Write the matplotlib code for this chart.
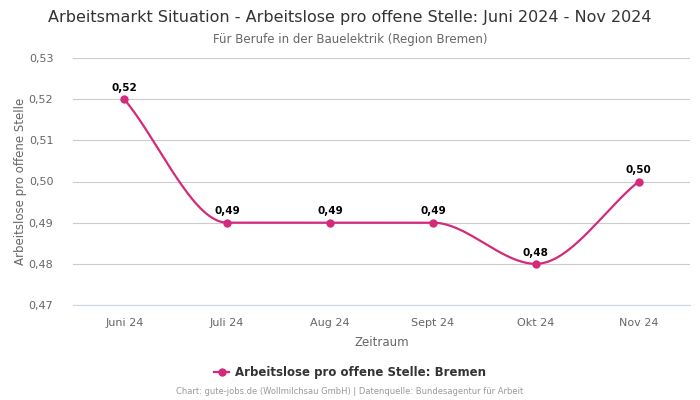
import numpy as np
import matplotlib.pyplot as plt
from matplotlib.lines import Line2D

# daten
monate = ['Juni 24', 'Juli 24', 'Aug 24', 'Sept 24', 'Okt 24', 'Nov 24']
werte = [0.52, 0.49, 0.49, 0.49, 0.48, 0.50]
yticks = [0.47, 0.48, 0.49, 0.50, 0.51, 0.52, 0.53]

farbe = '#d42a7b'


def pchip(x, y, n=40):
    # monotone kubische interpolation (Fritsch-Carlson) fuer die glatte linie
    x = np.asarray(x, float)
    y = np.asarray(y, float)
    h = np.diff(x)
    d = np.diff(y) / h
    m = np.zeros_like(y)
    for i in range(1, len(y) - 1):
        if d[i - 1] * d[i] > 0:
            w1 = 2 * h[i] + h[i - 1]
            w2 = h[i] + 2 * h[i - 1]
            m[i] = (w1 + w2) / (w1 / d[i - 1] + w2 / d[i])
    m[0] = d[0]
    m[-1] = d[-1]
    xs, ys = [], []
    for i in range(len(h)):
        t = np.linspace(0, 1, n)
        h00 = 2 * t**3 - 3 * t**2 + 1
        h10 = t**3 - 2 * t**2 + t
        h01 = -2 * t**3 + 3 * t**2
        h11 = t**3 - t**2
        xs.append(x[i] + t * h[i])
        ys.append(h00 * y[i] + h10 * h[i] * m[i] + h01 * y[i + 1] + h11 * h[i] * m[i + 1])
    return np.concatenate(xs), np.concatenate(ys)


fig = plt.figure(figsize=(7, 4), dpi=100)
ax = fig.add_axes([0.104, 0.2375, 0.882, 0.6175])

xpos = np.arange(len(monate))
xs, ys = pchip(xpos, werte)
ax.plot(xs, ys, color=farbe, lw=1.6, zorder=3)
ax.plot(xpos, werte, 'o', color=farbe, ms=5, zorder=4)

for x, v in zip(xpos, werte):
    ax.annotate(f'{v:.2f}'.replace('.', ','), (x, v), xytext=(0, 4.5), textcoords='offset points',
                ha='center', va='bottom', fontsize=7.5, fontweight='bold', color='black')

ax.set_xlim(-0.5, len(monate) - 0.5)
ax.set_ylim(0.47, 0.53)
ax.set_xticks(xpos)
ax.set_xticklabels(monate)
ax.set_yticks(yticks)
ax.set_yticklabels([f'{t:.2f}'.replace('.', ',') for t in yticks])
ax.tick_params(axis='both', length=0, labelsize=8, labelcolor='#666666')
ax.tick_params(axis='x', pad=9)
ax.tick_params(axis='y', pad=14)
ax.grid(axis='y', color='#cccccc', lw=0.8)
ax.set_axisbelow(True)
for s in ['top', 'right', 'left']:
    ax.spines[s].set_visible(False)
ax.spines['bottom'].set_color('#ccd6eb')
ax.spines['bottom'].set_linewidth(0.8)

ax.set_xlabel('Zeitraum', fontsize=8.5, color='#666666', labelpad=6)
ax.set_ylabel('Arbeitslose pro offene Stelle', fontsize=8.5, color='#666666', labelpad=1)

fig.text(0.5, 0.957, 'Arbeitsmarkt Situation - Arbeitslose pro offene Stelle: Juni 2024 - Nov 2024',
         ha='center', va='center', fontsize=11.5, color='#333333')
fig.text(0.5, 0.902, 'Für Berufe in der Bauelektrik (Region Bremen)',
         ha='center', va='center', fontsize=8.5, color='#666666')

handle = Line2D([], [], color=farbe, marker='o', ms=5, lw=1.6)
fig.legend([handle], ['Arbeitslose pro offene Stelle: Bremen'], loc='center',
           bbox_to_anchor=(0.5, 0.068), frameon=False, handlelength=1.2, handletextpad=0.5,
           prop={'size': 8.5, 'weight': 'bold'}, labelcolor='#333333')

fig.text(0.5, 0.02, 'Chart: gute-jobs.de (Wollmilchsau GmbH) | Datenquelle: Bundesagentur für Arbeit',
         ha='center', va='center', fontsize=6, color='#999999')

fig.savefig('out.png', dpi=100)
